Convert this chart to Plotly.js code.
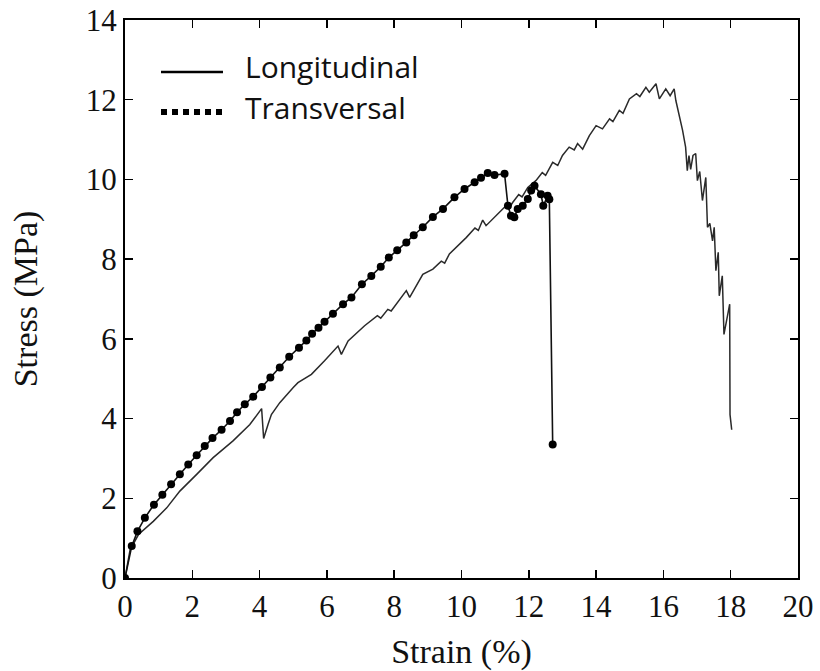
<!DOCTYPE html>
<html>
<head>
<meta charset="utf-8">
<script src="https://cdn.plot.ly/plotly-3.0.1.min.js"></script>
<style>
  html, body { margin: 0; padding: 0; background: #ffffff; }
  #chart { width: 820px; height: 671px; }
</style>
</head>
<body>
<div id="chart"></div>
<script>
// Strain (%) / Stress (MPa) readings
var longStrain = [0, 0.15, 0.40, 0.84, 1.24, 1.63, 2.13, 2.62, 3.21, 3.71, 4.06, 4.12, 4.25, 4.35, 4.60, 4.80, 5.00, 5.14, 5.54, 5.93, 6.33, 6.43, 6.63, 7.12, 7.50, 7.60, 7.81, 7.91, 8.36, 8.46, 8.85, 9.15, 9.40, 9.50, 9.64, 10.14, 10.40, 10.50, 10.63, 10.73, 11.13, 11.30, 11.40, 11.52, 11.70, 11.80, 11.97, 12.21, 12.40, 12.50, 12.71, 12.86, 13.00, 13.20, 13.35, 13.45, 13.60, 13.80, 14.00, 14.19, 14.40, 14.50, 14.69, 14.80, 14.99, 15.20, 15.30, 15.48, 15.58, 15.78, 15.88, 16.07, 16.20, 16.32, 16.37, 16.50, 16.57, 16.66, 16.71, 16.76, 16.81, 16.88, 16.96, 17.01, 17.08, 17.16, 17.26, 17.31, 17.38, 17.46, 17.51, 17.56, 17.63, 17.66, 17.75, 17.80, 17.97, 17.98, 18.03];
var longStress = [0, 0.70, 1.09, 1.42, 1.76, 2.18, 2.60, 3.02, 3.44, 3.85, 4.25, 3.50, 3.85, 4.10, 4.40, 4.60, 4.78, 4.90, 5.11, 5.45, 5.82, 5.61, 5.95, 6.33, 6.58, 6.52, 6.74, 6.70, 7.21, 7.04, 7.62, 7.75, 7.95, 7.90, 8.13, 8.54, 8.78, 8.72, 8.98, 8.84, 9.17, 9.32, 9.26, 9.42, 9.62, 9.56, 9.80, 9.97, 10.17, 10.10, 10.43, 10.35, 10.60, 10.81, 10.74, 10.90, 10.76, 11.10, 11.35, 11.27, 11.52, 11.45, 11.73, 11.66, 12.02, 12.15, 12.08, 12.31, 12.19, 12.40, 12.02, 12.27, 12.10, 12.27, 11.98, 11.50, 11.23, 10.81, 10.22, 10.60, 10.25, 10.60, 10.65, 9.97, 10.20, 9.47, 10.05, 8.80, 8.90, 8.46, 8.80, 7.71, 8.17, 7.08, 7.58, 6.11, 6.87, 4.10, 3.72];

var transStrain = [0, 0.20, 0.37, 0.59, 0.86, 1.11, 1.37, 1.63, 1.88, 2.13, 2.37, 2.60, 2.87, 3.12, 3.33, 3.56, 3.81, 4.07, 4.32, 4.60, 4.88, 5.17, 5.39, 5.56, 5.75, 5.93, 6.18, 6.48, 6.73, 7.04, 7.32, 7.60, 7.84, 8.09, 8.36, 8.58, 8.85, 9.15, 9.45, 9.79, 10.09, 10.39, 10.58, 10.78, 10.98, 11.28, 11.38, 11.47, 11.57, 11.67, 11.82, 11.97, 12.07, 12.17, 12.36, 12.43, 12.56, 12.61, 12.71];
var transStress = [0, 0.80, 1.17, 1.51, 1.84, 2.09, 2.35, 2.60, 2.85, 3.08, 3.31, 3.51, 3.72, 3.94, 4.16, 4.36, 4.55, 4.79, 5.03, 5.28, 5.55, 5.78, 5.96, 6.13, 6.28, 6.43, 6.63, 6.87, 7.04, 7.37, 7.58, 7.81, 8.04, 8.22, 8.42, 8.60, 8.80, 9.06, 9.26, 9.55, 9.76, 9.93, 10.04, 10.16, 10.11, 10.14, 9.34, 9.09, 9.05, 9.26, 9.34, 9.51, 9.72, 9.84, 9.63, 9.34, 9.59, 9.50, 3.35];

var xTicks = [0, 2, 4, 6, 8, 10, 12, 14, 16, 18, 20];
var yTicks = [0, 2, 4, 6, 8, 10, 12, 14];
var seriesNames = ["Longitudinal", "Transversal"];

var traces = [
  {
    x: longStrain, y: longStress, type: "scatter", mode: "lines",
    name: seriesNames[0], showlegend: false,
    line: { color: "#2a2a2a", width: 1.5 }
  },
  {
    x: transStrain, y: transStress, type: "scatter", mode: "lines+markers",
    name: seriesNames[1], showlegend: false,
    line: { color: "#111111", width: 1.6 },
    marker: { color: "#000000", size: 8, symbol: "circle" }
  }
];

var serif = "Liberation Serif, DejaVu Serif, serif";
var layout = {
  width: 820, height: 671,
  margin: { l: 125, r: 22, t: 20, b: 93 },
  paper_bgcolor: "#ffffff", plot_bgcolor: "#ffffff",
  showlegend: false,
  xaxis: {
    range: [0, 20], tickvals: xTicks, ticktext: xTicks.map(String),
    ticks: "inside", ticklen: 8, tickwidth: 1.5, tickcolor: "#000",
    showline: true, linewidth: 2, linecolor: "#000", mirror: "ticks",
    showgrid: false, zeroline: false,
    tickfont: { family: serif, size: 31, color: "#111" },
    title: { text: "Strain (%)", font: { family: serif, size: 34, color: "#111" }, standoff: 16 }
  },
  yaxis: {
    range: [0, 14], tickvals: yTicks, ticktext: yTicks.map(String),
    ticks: "inside", ticklen: 8, tickwidth: 1.5, tickcolor: "#000",
    showline: true, linewidth: 2, linecolor: "#000", mirror: "ticks",
    showgrid: false, zeroline: false,
    tickfont: { family: serif, size: 31, color: "#111" },
    title: { text: "Stress (MPa)", font: { family: serif, size: 34, color: "#111" }, standoff: 38 }
  },
  shapes: [
    { type: "line", xref: "paper", yref: "paper", x0: 0.0535, x1: 0.1456, y0: 0.907, y1: 0.907,
      line: { color: "#000", width: 2.5 } },
    { type: "line", xref: "paper", yref: "paper", x0: 0.0535, x1: 0.150, y0: 0.835, y1: 0.835,
      line: { color: "#000", width: 6, dash: "6px,5px" } }
  ],
  annotations: [
    { xref: "paper", yref: "paper", x: 0.175, y: 0.916, xanchor: "left", yanchor: "middle",
      text: seriesNames[0], showarrow: false, font: { family: "Open Sans, sans-serif", size: 30, color: "#111" } },
    { xref: "paper", yref: "paper", x: 0.175, y: 0.844, xanchor: "left", yanchor: "middle",
      text: seriesNames[1], showarrow: false, font: { family: "Open Sans, sans-serif", size: 30, color: "#111" } }
  ]
};

Plotly.newPlot("chart", traces, layout, { staticPlot: true, displayModeBar: false });
</script>
</body>
</html>
